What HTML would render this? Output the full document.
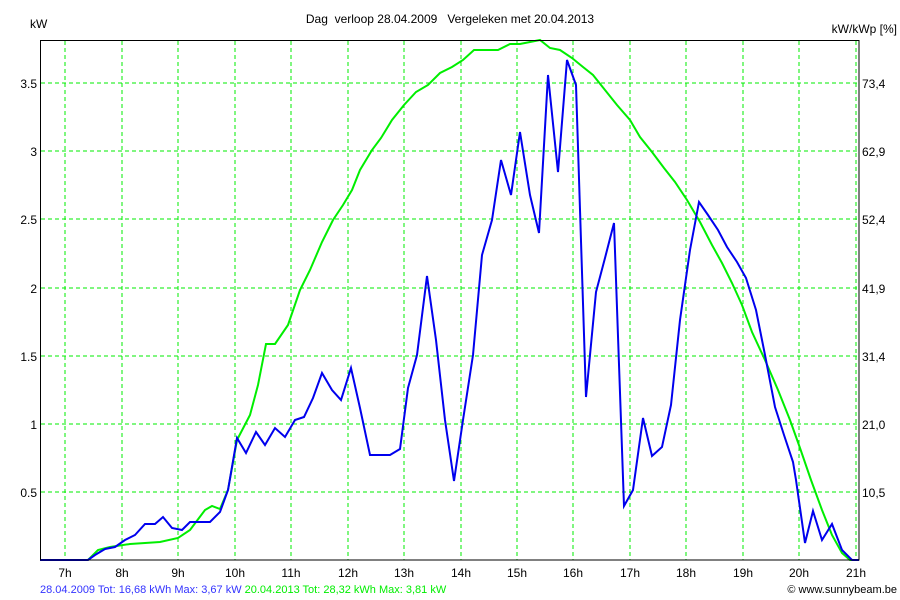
<!DOCTYPE html>
<html><head><meta charset="utf-8"><style>
body{margin:0;background:#fff;}
svg{display:block;font-family:"Liberation Sans",Arial,sans-serif;font-size:12px;}
</style></head><body>
<svg width="900" height="600" viewBox="0 0 900 600">
<rect width="900" height="600" fill="#fff"/>
<g stroke="#00ee00" stroke-width="1" stroke-dasharray="4,3" fill="none">
<line x1="65" y1="41" x2="65" y2="560"/><line x1="122" y1="41" x2="122" y2="560"/><line x1="178" y1="41" x2="178" y2="560"/><line x1="235" y1="41" x2="235" y2="560"/><line x1="291" y1="41" x2="291" y2="560"/><line x1="348" y1="41" x2="348" y2="560"/><line x1="404" y1="41" x2="404" y2="560"/><line x1="461" y1="41" x2="461" y2="560"/><line x1="517" y1="41" x2="517" y2="560"/><line x1="573" y1="41" x2="573" y2="560"/><line x1="630" y1="41" x2="630" y2="560"/><line x1="686" y1="41" x2="686" y2="560"/><line x1="743" y1="41" x2="743" y2="560"/><line x1="799" y1="41" x2="799" y2="560"/><line x1="856" y1="41" x2="856" y2="560"/>
<line x1="41" y1="83" x2="859" y2="83"/><line x1="41" y1="151" x2="859" y2="151"/><line x1="41" y1="219" x2="859" y2="219"/><line x1="41" y1="288" x2="859" y2="288"/><line x1="41" y1="356" x2="859" y2="356"/><line x1="41" y1="424" x2="859" y2="424"/><line x1="41" y1="492" x2="859" y2="492"/>
</g>
<polyline fill="none" stroke="#00ee00" stroke-width="2" points="40,560 88,560 98,550 110,547 130,544 160,542 178,538 190,530 205,510 212,506 220,509 228,490 237,440 250,415 258,385 266,344 275,344 288,325 300,290 310,270 322,242 333,220 343,205 352,190 360,170 372,150 381,138 392,120 404,105 416,92 428,85 440,73 452,67 463,60 474,50 486,50 498,50 510,44 520,44 530,42 540,40 550,48 560,50 572,58 583,67 593,75 605,90 617,105 630,120 640,137 652,152 664,168 675,182 687,200 700,222 712,245 722,263 732,283 742,305 752,332 765,360 778,390 790,420 800,448 811,480 822,510 832,535 842,553 850,560 859,560"/>
<polyline fill="none" stroke="#0000ee" stroke-width="2" points="40,560 50,560 88,560 95,555 105,549 115,547 125,540 135,535 145,524 155,524 163,517 172,528 182,530 190,522 200,522 210,522 220,512 228,490 237,438 246,453 256,432 265,445 275,428 285,437 295,420 304,417 313,398 322,373 332,390 341,400 351,368 360,408 370,455 380,455 390,455 400,449 408,388 417,355 427,276 436,340 445,420 454,481 463,420 473,355 482,255 492,220 501,160 511,195 520,132 530,195 539,233 548,75 558,172 567,60 576,85 586,397 596,292 605,258 614,223 624,506 633,490 643,418 652,456 662,447 671,405 680,320 690,250 699,202 708,215 718,230 727,247 737,262 746,278 756,310 765,355 775,407 784,435 793,462 796,480 805,543 813,511 822,540 832,524 842,550 852,560 859,560"/>
<rect x="40.5" y="40.5" width="818.5" height="519.5" fill="none" stroke="#000" stroke-width="1"/>
<g fill="#000">
<text x="450" y="23" text-anchor="middle">Dag&#160; verloop 28.04.2009&#160;&#160; Vergeleken met 20.04.2013</text>
<text x="30" y="28">kW</text>
<text x="897" y="33" text-anchor="end">kW/kWp [%]</text>
<g text-anchor="end">
<text x="37" y="88">3.5</text><text x="37" y="156">3</text><text x="37" y="224">2.5</text><text x="37" y="293">2</text><text x="37" y="361">1.5</text><text x="37" y="429">1</text><text x="37" y="497">0.5</text></g>
<g><text x="862" y="88">73,4</text><text x="862" y="156">62,9</text><text x="862" y="224">52,4</text><text x="862" y="293">41,9</text><text x="862" y="361">31,4</text><text x="862" y="429">21,0</text><text x="862" y="497">10,5</text></g>
<g text-anchor="middle"><text x="65" y="577">7h</text><text x="122" y="577">8h</text><text x="178" y="577">9h</text><text x="235" y="577">10h</text><text x="291" y="577">11h</text><text x="348" y="577">12h</text><text x="404" y="577">13h</text><text x="461" y="577">14h</text><text x="517" y="577">15h</text><text x="573" y="577">16h</text><text x="630" y="577">17h</text><text x="686" y="577">18h</text><text x="743" y="577">19h</text><text x="799" y="577">20h</text><text x="856" y="577">21h</text></g>
</g>
<text x="40" y="593" font-size="11" fill="#3333ff">28.04.2009 Tot: 16,68 kWh Max: 3,67 kW <tspan fill="#00ee00">20.04.2013 Tot: 28,32 kWh Max: 3,81 kW</tspan></text>
<text x="897" y="593" font-size="11" text-anchor="end" fill="#000">© www.sunnybeam.be</text>
</svg>
</body></html>
